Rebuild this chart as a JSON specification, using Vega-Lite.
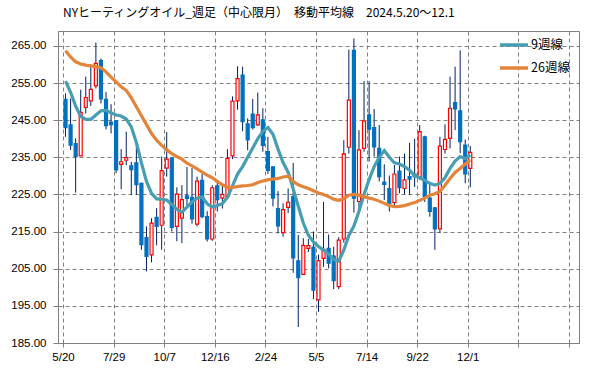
{
"$schema": "https://vega.github.io/schema/vega-lite/v6.json",
"width": 521, "height": 312,
"autosize": {"type": "none"},
"padding": {"left": 58, "top": 31, "right": 20, "bottom": 26},
"background": "white",
"title": {"text": "NYヒーティングオイル_週足（中心限月）　移動平均線　2024.5.20～12.1", "anchor": "start", "frame": "group", "dx": 5, "offset": 9, "fontSize": 12, "font": "Noto Sans CJK JP", "fontWeight": "normal", "color": "black"},
"data": {"values": [
{"i":0,"o":250.6,"h":252.2,"l":240.5,"c":243.0,"9週線":255.5,"26週線":263.7},
{"i":1,"o":243.7,"h":250.8,"l":237.0,"c":238.3,"9週線":252.5,"26週線":262.0},
{"i":2,"o":238.7,"h":240.1,"l":225.5,"c":235.2,"9週線":248.8,"26週線":260.7},
{"i":3,"o":235.4,"h":253.2,"l":235.4,"c":247.1,"9週線":246.0,"26週線":260.1},
{"i":4,"o":248.4,"h":256.7,"l":246.8,"c":251.1,"9週線":245.2,"26週線":259.8},
{"i":5,"o":250.2,"h":260.0,"l":248.8,"c":253.3,"9週線":245.2,"26週線":259.6},
{"i":6,"o":254.2,"h":265.9,"l":253.5,"c":260.3,"9週線":246.4,"26週線":259.4},
{"i":7,"o":261.0,"h":261.6,"l":249.5,"c":250.7,"9週線":247.5,"26週線":259.1},
{"i":8,"o":250.6,"h":252.6,"l":242.5,"c":243.5,"9週線":247.6,"26週線":258.0},
{"i":9,"o":244.5,"h":249.3,"l":241.4,"c":243.8,"9週線":247.0,"26週線":256.6},
{"i":10,"o":244.8,"h":245.0,"l":230.7,"c":231.6,"9週線":246.4,"26週線":255.3},
{"i":11,"o":233.1,"h":237.2,"l":226.4,"c":233.8,"9週線":246.1,"26週線":254.0},
{"i":12,"o":234.2,"h":241.9,"l":232.9,"c":234.9,"9週線":245.3,"26週線":253.0},
{"i":13,"o":232.7,"h":233.8,"l":224.9,"c":231.7,"9週線":243.2,"26週線":251.0},
{"i":14,"o":233.5,"h":238.8,"l":224.9,"c":227.6,"9週線":239.0,"26週線":248.6},
{"i":15,"o":228.0,"h":228.2,"l":210.1,"c":211.5,"9週線":233.5,"26週線":246.2},
{"i":16,"o":213.4,"h":216.4,"l":204.3,"c":208.3,"9週線":228.5,"26週線":243.8},
{"i":17,"o":208.7,"h":218.6,"l":206.7,"c":217.3,"9週線":225.3,"26週線":241.4},
{"i":18,"o":218.8,"h":221.3,"l":211.3,"c":216.4,"9週線":223.8,"26週線":239.6},
{"i":19,"o":216.7,"h":235.2,"l":210.1,"c":231.4,"9週線":223.7,"26週線":238.2},
{"i":20,"o":232.1,"h":241.8,"l":229.8,"c":234.5,"9週線":223.5,"26週線":237.0},
{"i":21,"o":234.8,"h":235.0,"l":215.0,"c":216.1,"9週線":222.3,"26週線":236.0},
{"i":22,"o":216.4,"h":226.9,"l":212.4,"c":225.1,"9週線":221.0,"26週線":235.2},
{"i":23,"o":218.6,"h":227.5,"l":211.9,"c":223.6,"9週線":220.2,"26週線":234.5},
{"i":24,"o":224.6,"h":232.4,"l":221.9,"c":223.9,"9週線":221.6,"26週線":233.4},
{"i":25,"o":224.2,"h":232.1,"l":217.1,"c":218.4,"9週線":223.0,"26週線":232.7},
{"i":26,"o":217.0,"h":229.8,"l":216.4,"c":228.6,"9週線":224.0,"26週線":231.9},
{"i":27,"o":228.8,"h":230.5,"l":218.6,"c":219.0,"9週線":224.3,"26週線":231.0},
{"i":28,"o":219.0,"h":220.5,"l":212.3,"c":213.0,"9週線":222.5,"26週線":230.2},
{"i":29,"o":213.0,"h":227.5,"l":212.5,"c":226.8,"9週線":221.6,"26週線":229.5},
{"i":30,"o":227.3,"h":228.5,"l":220.4,"c":223.6,"9週線":222.0,"26週線":228.5},
{"i":31,"o":224.0,"h":227.3,"l":221.2,"c":225.0,"9週線":222.5,"26週線":227.6},
{"i":32,"o":224.5,"h":237.2,"l":223.8,"c":234.7,"9週線":224.2,"26週線":226.9},
{"i":33,"o":235.4,"h":251.4,"l":234.5,"c":250.1,"9週線":227.3,"26週線":226.9},
{"i":34,"o":250.2,"h":259.5,"l":247.8,"c":256.2,"9週線":230.5,"26週線":227.1},
{"i":35,"o":257.1,"h":259.4,"l":242.0,"c":244.6,"9週線":232.5,"26週線":227.3},
{"i":36,"o":244.0,"h":245.5,"l":236.9,"c":239.7,"9週線":235.0,"26週線":227.4},
{"i":37,"o":246.6,"h":250.7,"l":242.5,"c":243.0,"9週線":237.5,"26週線":227.6},
{"i":38,"o":243.7,"h":252.4,"l":243.5,"c":246.4,"9週線":240.0,"26週線":228.2},
{"i":39,"o":245.1,"h":248.2,"l":236.5,"c":238.2,"9週線":242.0,"26週線":228.6},
{"i":40,"o":236.5,"h":240.5,"l":230.5,"c":231.5,"9週線":243.0,"26週線":228.9},
{"i":41,"o":232.4,"h":232.6,"l":221.8,"c":224.0,"9週線":241.2,"26週線":229.1},
{"i":42,"o":221.2,"h":225.9,"l":214.5,"c":216.5,"9週線":237.2,"26週線":229.3},
{"i":43,"o":214.7,"h":222.6,"l":213.6,"c":220.9,"9週線":233.6,"26週線":229.7},
{"i":44,"o":221.5,"h":226.6,"l":220.0,"c":222.9,"9週線":231.0,"26週線":229.9},
{"i":45,"o":224.4,"h":233.5,"l":203.9,"c":207.9,"9週線":226.5,"26週線":228.5},
{"i":46,"o":207.1,"h":214.1,"l":189.3,"c":202.6,"9週線":221.8,"26週線":227.6},
{"i":47,"o":203.5,"h":213.2,"l":203.5,"c":211.3,"9週線":217.3,"26週線":227.1},
{"i":48,"o":210.5,"h":213.0,"l":209.5,"c":211.2,"9週線":214.0,"26週線":226.6},
{"i":49,"o":210.8,"h":215.0,"l":196.8,"c":199.2,"9週線":212.2,"26週線":226.0},
{"i":50,"o":196.6,"h":208.8,"l":193.4,"c":207.2,"9週線":211.0,"26週線":225.4},
{"i":51,"o":207.8,"h":223.0,"l":205.5,"c":210.2,"9週線":210.0,"26週線":225.0},
{"i":52,"o":210.5,"h":214.2,"l":205.1,"c":206.5,"9週線":209.0,"26週線":224.4},
{"i":53,"o":208.4,"h":210.9,"l":199.5,"c":201.8,"9週線":207.5,"26週線":223.7},
{"i":54,"o":200.2,"h":213.5,"l":199.5,"c":212.7,"9週線":207.0,"26週線":223.4},
{"i":55,"o":213.0,"h":239.6,"l":212.0,"c":235.9,"9週線":210.0,"26週線":223.8},
{"i":56,"o":237.7,"h":264.0,"l":236.0,"c":250.4,"9週線":214.0,"26週線":224.8},
{"i":57,"o":263.8,"h":267.0,"l":220.1,"c":224.0,"9週線":216.5,"26週線":225.0},
{"i":58,"o":223.1,"h":242.3,"l":221.0,"c":237.0,"9週線":220.5,"26週線":224.8},
{"i":59,"o":237.4,"h":255.5,"l":236.5,"c":244.8,"9週線":225.0,"26週線":224.4},
{"i":60,"o":246.4,"h":255.5,"l":233.8,"c":242.6,"9週線":229.0,"26週線":224.0},
{"i":61,"o":243.0,"h":248.0,"l":235.2,"c":237.8,"9週線":232.5,"26週線":223.7},
{"i":62,"o":237.4,"h":243.7,"l":228.5,"c":229.8,"9週線":235.0,"26週線":223.2},
{"i":63,"o":228.3,"h":233.1,"l":223.5,"c":227.7,"9週線":236.8,"26週線":222.6},
{"i":64,"o":226.6,"h":230.1,"l":220.4,"c":222.6,"9週線":235.0,"26週線":222.0},
{"i":65,"o":222.8,"h":232.9,"l":222.0,"c":230.5,"9週線":233.5,"26週線":221.7},
{"i":66,"o":231.3,"h":235.2,"l":225.3,"c":226.8,"9週線":233.2,"26週線":221.8},
{"i":67,"o":226.6,"h":236.0,"l":225.0,"c":228.9,"9週線":232.5,"26週線":222.0},
{"i":68,"o":229.8,"h":238.9,"l":224.9,"c":229.1,"9週線":231.5,"26週線":222.4},
{"i":69,"o":230.5,"h":240.0,"l":227.0,"c":229.8,"9週線":230.0,"26週線":222.8},
{"i":70,"o":229.8,"h":243.7,"l":229.0,"c":241.9,"9週線":229.5,"26週線":223.4},
{"i":71,"o":240.5,"h":240.8,"l":223.0,"c":224.4,"9週線":228.8,"26週線":224.0},
{"i":72,"o":224.0,"h":228.0,"l":219.0,"c":220.4,"9週線":228.0,"26週線":224.8},
{"i":73,"o":221.4,"h":221.6,"l":210.1,"c":215.7,"9週線":227.5,"26週線":225.2},
{"i":74,"o":215.7,"h":240.5,"l":214.6,"c":238.0,"9週線":228.0,"26週線":225.8},
{"i":75,"o":237.1,"h":243.9,"l":236.0,"c":239.8,"9週線":229.5,"26週線":227.5},
{"i":76,"o":240.1,"h":256.7,"l":237.4,"c":248.2,"9週線":232.0,"26週線":229.3},
{"i":77,"o":249.7,"h":259.4,"l":242.3,"c":248.0,"9週線":234.0,"26週線":230.9},
{"i":78,"o":247.5,"h":263.8,"l":236.1,"c":239.2,"9週線":235.2,"26週線":232.0},
{"i":79,"o":238.3,"h":239.8,"l":228.0,"c":230.5,"9週線":234.6,"26週線":233.2},
{"i":80,"o":232.0,"h":238.0,"l":226.9,"c":236.3,"9週線":235.6,"26週線":234.2}
]},
"encoding": {
  "x": {"field": "i", "type": "quantitative",
    "scale": {"domain": [-0.5, 100.5], "nice": false, "zero": false},
    "axis": {"title": null, "values": [-0.5, 9.5, 19.5, 29.5, 39.5, 49.5, 59.5, 69.5, 79.5, 89.5, 99.5],
      "labelExpr": "['5/20','7/29','10/7','12/16','2/24','5/5','7/14','9/22','12/1','',''][round((datum.value+0.5)/10)]",
      "grid": true, "gridColor": "#808080", "gridDash": [4, 3], "gridWidth": 1,
      "domainColor": "#808080", "tickColor": "#808080", "tickSize": 4,
      "labelFont": "Liberation Sans", "labelFontSize": 11.5, "labelColor": "black", "labelPadding": 4,
      "labelOverlap": false, "labelFlush": false}}
},
"layer": [
  {"mark": {"type": "rule", "color": "#002060", "strokeWidth": 1},
   "encoding": {
     "y": {"field": "l", "type": "quantitative",
       "scale": {"domain": [185, 269], "nice": false, "zero": false},
       "axis": {"title": null, "values": [185, 195, 205, 215, 225, 235, 245, 255, 265], "format": ".2f",
         "grid": true, "gridColor": "#808080", "gridDash": [4, 3], "gridWidth": 1,
         "domainColor": "#808080", "tickColor": "#808080", "tickSize": 5,
         "labelFont": "Liberation Sans", "labelFontSize": 11.5, "labelColor": "black", "labelPadding": 7,
         "labelOverlap": false, "labelFlush": false, "labelBound": false}},
     "y2": {"field": "h"}}},
  {"mark": {"type": "bar", "width": 3, "strokeWidth": 1.2},
   "encoding": {
     "y": {"field": "o", "type": "quantitative",
       "axis": {"title": null, "values": [185, 195, 205, 215, 225, 235, 245, 255, 265], "format": ".2f",
         "grid": true, "gridColor": "#808080", "gridDash": [4, 3], "gridWidth": 1,
         "domainColor": "#808080", "tickColor": "#808080", "tickSize": 5,
         "labelFont": "Liberation Sans", "labelFontSize": 11.5, "labelColor": "black", "labelPadding": 7,
         "labelOverlap": false, "labelFlush": false, "labelBound": false}},
     "y2": {"field": "c"},
     "fill": {"condition": {"test": "datum.c >= datum.o", "value": "white"}, "value": "#0070C0"},
     "stroke": {"condition": {"test": "datum.c >= datum.o", "value": "#FF0000"}, "value": "#0070C0"}}},
  {"transform": [{"fold": ["9週線", "26週線"], "as": ["series", "v"]}],
   "mark": {"type": "line", "strokeWidth": 3.2},
   "encoding": {
     "y": {"field": "v", "type": "quantitative",
       "axis": {"title": null, "values": [185, 195, 205, 215, 225, 235, 245, 255, 265], "format": ".2f",
         "grid": true, "gridColor": "#808080", "gridDash": [4, 3], "gridWidth": 1,
         "domainColor": "#808080", "tickColor": "#808080", "tickSize": 5,
         "labelFont": "Liberation Sans", "labelFontSize": 11.5, "labelColor": "black", "labelPadding": 7,
         "labelOverlap": false, "labelFlush": false, "labelBound": false}},
     "color": {"field": "series", "type": "nominal",
       "scale": {"domain": ["9週線", "26週線"], "range": ["#479DB1", "#E2843A"]},
       "legend": {"orient": "none", "legendX": 440, "legendY": -2, "title": null,
         "symbolType": "stroke", "symbolSize": 784, "symbolStrokeWidth": 3.5,
         "labelFont": "Noto Sans CJK JP", "labelFontSize": 12.5, "labelColor": "black",
         "rowPadding": -5, "labelOffset": 1, "padding": 0}}}}
],
"config": {"view": {"stroke": "#808080", "strokeWidth": 1}, "axis": {"labelOverlap": false}}
}
